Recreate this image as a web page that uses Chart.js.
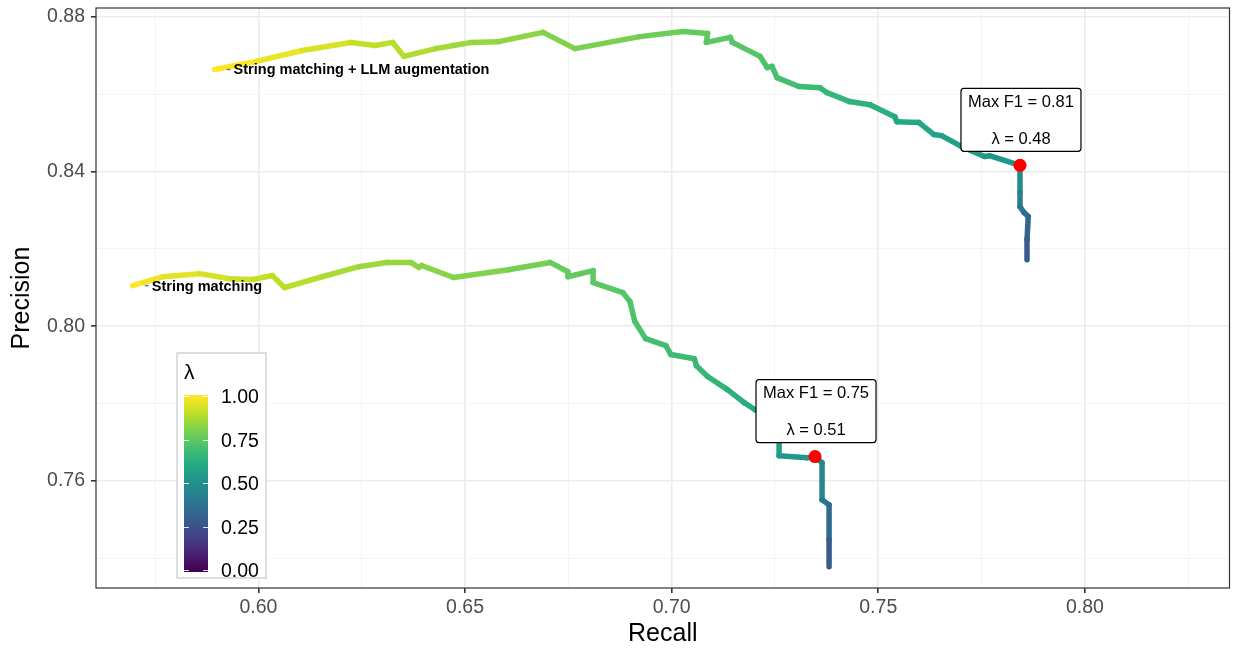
<!DOCTYPE html>
<html>
<head>
<meta charset="utf-8">
<script src="https://cdn.jsdelivr.net/npm/chart.js@4.4.1/dist/chart.umd.min.js"></script>
<style>
  html, body { margin: 0; padding: 0; background: #fff; }
</style>
</head>
<body>
<canvas id="pr" width="1236" height="649"></canvas>
<script>
// String matching + LLM augmentation
const augRecall = [0.5894, 0.5995, 0.6106, 0.6224, 0.6282, 0.6325, 0.6352, 0.6429, 0.6472, 0.6516,
  0.6581, 0.6689, 0.6766, 0.6923, 0.7027, 0.7087, 0.7084, 0.7142, 0.7147, 0.7214,
  0.7231, 0.7243, 0.7255, 0.7308, 0.7359, 0.7376, 0.7431, 0.7480, 0.7540, 0.7545,
  0.7598, 0.7634, 0.7653, 0.7701, 0.7757, 0.7769, 0.7843, 0.7843, 0.7843, 0.7853,
  0.7863, 0.7860, 0.7860];
const augPrecision = [0.8664, 0.8685, 0.8713, 0.8734, 0.8726, 0.8734, 0.8698, 0.8718, 0.8726, 0.8734,
  0.8736, 0.8760, 0.8718, 0.8749, 0.8762, 0.8757, 0.8734, 0.8747, 0.8734, 0.8698,
  0.8669, 0.8672, 0.8643, 0.8620, 0.8617, 0.8604, 0.8581, 0.8573, 0.8542, 0.8529,
  0.8527, 0.8496, 0.8493, 0.8465, 0.8439, 0.8441, 0.8416, 0.8346, 0.8309, 0.8294,
  0.8284, 0.8224, 0.8172];
const augLambda = [1.00, 0.97, 0.94, 0.91, 0.90, 0.89, 0.88, 0.86, 0.85, 0.84,
  0.83, 0.81, 0.80, 0.78, 0.76, 0.75, 0.745, 0.74, 0.735, 0.72,
  0.71, 0.705, 0.70, 0.68, 0.67, 0.66, 0.64, 0.63, 0.61, 0.60,
  0.59, 0.57, 0.565, 0.55, 0.53, 0.52, 0.48, 0.43, 0.39, 0.36,
  0.33, 0.29, 0.24];

// String matching
const strRecall = [0.5696, 0.5720, 0.5769, 0.5858, 0.5930, 0.5986, 0.6034, 0.6063, 0.6154, 0.6243,
  0.6311, 0.6369, 0.6388, 0.6395, 0.6472, 0.6605, 0.6706, 0.6749, 0.6749, 0.6810,
  0.6810, 0.6882, 0.6899, 0.6911, 0.6937, 0.6986, 0.6998, 0.7055, 0.7060, 0.7087,
  0.7135, 0.7176, 0.7202, 0.7243, 0.7260, 0.7260, 0.7328, 0.7347, 0.7364, 0.7364,
  0.7381, 0.7381, 0.7381];
const strPrecision = [0.8105, 0.8113, 0.8128, 0.8136, 0.8123, 0.8121, 0.8131, 0.8100, 0.8128, 0.8154,
  0.8165, 0.8165, 0.8152, 0.8157, 0.8126, 0.8146, 0.8165, 0.8141, 0.8128, 0.8144,
  0.8113, 0.8087, 0.8064, 0.8012, 0.7968, 0.7950, 0.7927, 0.7916, 0.7898, 0.7870,
  0.7836, 0.7802, 0.7784, 0.7764, 0.7745, 0.7665, 0.7660, 0.7663, 0.7647, 0.7551,
  0.7538, 0.7448, 0.7378];
const strLambda = [1.00, 0.98, 0.96, 0.94, 0.92, 0.91, 0.90, 0.89, 0.87, 0.85,
  0.84, 0.83, 0.825, 0.82, 0.81, 0.79, 0.77, 0.76, 0.755, 0.75,
  0.745, 0.73, 0.72, 0.71, 0.70, 0.69, 0.68, 0.67, 0.665, 0.65,
  0.63, 0.61, 0.60, 0.58, 0.56, 0.53, 0.52, 0.51, 0.47, 0.40,
  0.35, 0.29, 0.22];

// max F1 points
const bestRecall = [0.7843, 0.7347];
const bestPrecision = [0.8416, 0.7663];
const bestF1 = ['0.81', '0.75'];
const bestLambda = ['0.48', '0.51'];

const curveNames = ['String matching + LLM augmentation', 'String matching'];

// axes
const xTicks = [0.575, 0.60, 0.625, 0.65, 0.675, 0.70, 0.725, 0.75, 0.775, 0.80, 0.825];
const xMajor = [0.60, 0.65, 0.70, 0.75, 0.80];
const yTicks = [0.74, 0.76, 0.78, 0.80, 0.82, 0.84, 0.86, 0.88];
const yMajor = [0.76, 0.80, 0.84, 0.88];
const legendTicks = [1.00, 0.75, 0.50, 0.25, 0.00];

// viridis
const viridis = ['#440154', '#482475', '#414487', '#355f8d', '#2a788e', '#21918c',
  '#22a884', '#44bf70', '#7ad151', '#bddf26', '#fde725'];

const FONT = '"Liberation Sans", Arial, sans-serif';

function hexToRgb(h) {
  return [parseInt(h.slice(1, 3), 16), parseInt(h.slice(3, 5), 16), parseInt(h.slice(5, 7), 16)];
}
function viridisColor(t) {
  t = Math.max(0, Math.min(1, t));
  const pos = t * (viridis.length - 1);
  const i = Math.min(Math.floor(pos), viridis.length - 2);
  const f = pos - i;
  const a = hexToRgb(viridis[i]), b = hexToRgb(viridis[i + 1]);
  const c = a.map((v, k) => Math.round(v + (b[k] - v) * f));
  return 'rgb(' + c.join(',') + ')';
}

function toPoints(xs, ys) {
  return xs.map((x, i) => ({ x: x, y: ys[i] }));
}

function curveDataset(xs, ys, lams) {
  return {
    data: toPoints(xs, ys),
    showLine: true,
    borderWidth: 5.5,
    borderCapStyle: 'round',
    borderJoinStyle: 'round',
    pointRadius: 0,
    order: 1,
    segment: {
      borderColor: ctx => viridisColor(lams[ctx.p0DataIndex])
    },
    borderColor: viridisColor(lams[0])
  };
}

const frame = {
  id: 'frame',
  beforeDatasetsDraw(chart) {
    const { ctx, chartArea: a } = chart;
    ctx.save();
    ctx.strokeStyle = '#333333';
    ctx.lineWidth = 1.2;
    ctx.strokeRect(a.left, a.top, a.right - a.left, a.bottom - a.top);
    ctx.restore();
  }
};

function roundRect(ctx, x, y, w, h, r) {
  ctx.beginPath();
  ctx.moveTo(x + r, y);
  ctx.lineTo(x + w - r, y);
  ctx.quadraticCurveTo(x + w, y, x + w, y + r);
  ctx.lineTo(x + w, y + h - r);
  ctx.quadraticCurveTo(x + w, y + h, x + w - r, y + h);
  ctx.lineTo(x + r, y + h);
  ctx.quadraticCurveTo(x, y + h, x, y + h - r);
  ctx.lineTo(x, y + r);
  ctx.quadraticCurveTo(x, y, x + r, y);
  ctx.closePath();
}

const notes = {
  id: 'notes',
  afterDatasetsDraw(chart) {
    const { ctx, scales: { x, y } } = chart;
    ctx.save();

    // labels for max F1
    bestRecall.forEach((r, i) => {
      const px = x.getPixelForValue(r);
      const py = y.getPixelForValue(bestPrecision[i]);
      const w = 120, h = 63;
      const bx = px + 1 - w / 2, by = py - 14 - h;
      roundRect(ctx, bx, by, w, h, 3);
      ctx.fillStyle = '#ffffff';
      ctx.fill();
      ctx.strokeStyle = '#000000';
      ctx.lineWidth = 1.2;
      ctx.stroke();
      ctx.fillStyle = '#000000';
      ctx.font = '16.5px ' + FONT;
      ctx.textAlign = 'center';
      ctx.textBaseline = 'middle';
      ctx.fillText('Max F1 = ' + bestF1[i], bx + w / 2, by + 14);
      ctx.fillText('\u03bb = ' + bestLambda[i], bx + w / 2, by + h - 12);
    });

    // curve names at the start of each curve
    const starts = [[augRecall[0], augPrecision[0]], [strRecall[0], strPrecision[0]]];
    starts.forEach((s, i) => {
      const px = x.getPixelForValue(s[0]);
      const py = y.getPixelForValue(s[1]);
      ctx.strokeStyle = '#777777';
      ctx.lineWidth = 1.5;
      ctx.beginPath();
      ctx.moveTo(px + 12, py);
      ctx.lineTo(px + 16, py);
      ctx.stroke();
      ctx.fillStyle = '#000000';
      ctx.font = 'bold 14.5px ' + FONT;
      ctx.textAlign = 'left';
      ctx.textBaseline = 'middle';
      ctx.fillText(curveNames[i], px + 19, py + 1);
    });
    ctx.restore();
  },
  afterDraw(chart) {
    const { ctx, chartArea: a } = chart;
    ctx.save();
    const lx = a.left + 81, ly = a.top + 345;
    ctx.fillStyle = '#ffffff';
    ctx.fillRect(lx, ly, 89, 225);
    ctx.strokeStyle = '#d4d4d4';
    ctx.lineWidth = 1.5;
    ctx.strokeRect(lx, ly, 89, 225);

    ctx.fillStyle = '#000000';
    ctx.font = '21px ' + FONT;
    ctx.textAlign = 'left';
    ctx.textBaseline = 'middle';
    ctx.fillText('\u03bb', lx + 7, ly + 20);

    const barX = lx + 7, barW = 24;
    const top1 = ly + 43, bot0 = ly + 217;
    const grad = ctx.createLinearGradient(0, bot0, 0, top1);
    viridis.forEach((c, i) => grad.addColorStop(i / (viridis.length - 1), c));
    ctx.fillStyle = grad;
    ctx.fillRect(barX, top1 - 1, barW, bot0 - top1 + 3);

    ctx.strokeStyle = 'rgba(255,255,255,0.85)';
    ctx.lineWidth = 1;
    ctx.font = '19.5px ' + FONT;
    legendTicks.forEach(v => {
      const ty = Math.round(bot0 - v * (bot0 - top1)) + 0.5;
      ctx.beginPath();
      ctx.moveTo(barX, ty); ctx.lineTo(barX + 5, ty);
      ctx.moveTo(barX + barW - 5, ty); ctx.lineTo(barX + barW, ty);
      ctx.stroke();
      ctx.fillStyle = '#000000';
      ctx.fillText(v.toFixed(2), lx + 44, ty + 1);
    });
    ctx.restore();
  }
};

function setTicks(list, majors) {
  return scale => {
    scale.ticks = list.map(v => ({ value: v, major: majors.includes(v) }));
  };
}

const gridStyle = {
  color: c => (c.tick && c.tick.major) ? '#ebebeb' : '#f4f4f4',
  lineWidth: c => (c.tick && c.tick.major) ? 1.6 : 1,
  tickColor: c => (c.tick && c.tick.major) ? '#333333' : 'rgba(0,0,0,0)',
  tickLength: 5,
  tickWidth: 1.6
};

new Chart(document.getElementById('pr'), {
  type: 'scatter',
  data: {
    datasets: [
      curveDataset(augRecall, augPrecision, augLambda),
      curveDataset(strRecall, strPrecision, strLambda),
      {
        data: toPoints(bestRecall, bestPrecision),
        pointRadius: 6.5,
        pointBackgroundColor: '#ff0000',
        pointBorderWidth: 0,
        showLine: false,
        order: 0
      }
    ]
  },
  options: {
    responsive: false,
    animation: false,
    layout: { padding: { top: 8, right: 0, left: 0, bottom: 0 } },
    plugins: {
      legend: { display: false },
      tooltip: { enabled: false }
    },
    scales: {
      x: {
        type: 'linear',
        min: 0.5607,
        max: 0.835,
        afterBuildTicks: setTicks(xTicks, xMajor),
        afterFit: s => { s.height = 61; s.paddingLeft = 0; s.paddingRight = 0; },
        border: { display: false },
        grid: gridStyle,
        ticks: {
          autoSkip: false,
          maxRotation: 0,
          padding: 3,
          color: '#4d4d4d',
          font: { family: FONT, size: 19.5 },
          callback: v => xMajor.includes(v) ? v.toFixed(2) : ''
        },
        title: {
          display: true,
          text: 'Recall',
          color: '#000000',
          font: { family: FONT, size: 25 },
          padding: { top: 0, bottom: 0 }
        }
      },
      y: {
        type: 'linear',
        min: 0.7323,
        max: 0.8823,
        afterBuildTicks: setTicks(yTicks, yMajor),
        afterFit: s => { s.width = 96; s.paddingTop = 0; s.paddingBottom = 0; },
        border: { display: false },
        grid: gridStyle,
        ticks: {
          autoSkip: false,
          padding: 6,
          color: '#4d4d4d',
          font: { family: FONT, size: 19.5 },
          callback: v => yMajor.includes(v) ? v.toFixed(2) : ''
        },
        title: {
          display: true,
          text: 'Precision',
          color: '#000000',
          font: { family: FONT, size: 25 },
          padding: { top: 7, bottom: 0 }
        }
      }
    }
  },
  plugins: [frame, notes]
});
</script>
</body>
</html>
